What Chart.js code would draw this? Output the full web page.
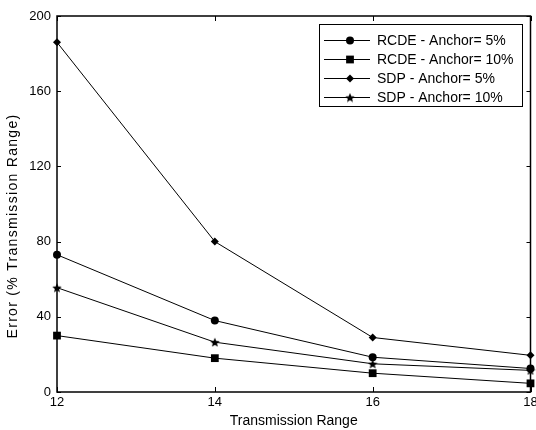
<!DOCTYPE html>
<html>
<head>
<meta charset="utf-8">
<script src="https://cdn.jsdelivr.net/npm/chart.js@4/dist/chart.umd.min.js"></script>
<style>
  html, body { margin: 0; padding: 0; background: #fff; overflow: hidden; }
</style>
</head>
<body>
<canvas id="errorChart" width="536" height="430"></canvas>
<script>
// transmission range on x, error in % of transmission range on y
const ranges = [12, 14, 16, 18];
const rcde5 = [73, 38, 18.5, 12.5];
const rcde10 = [30, 18, 10, 4.6];
const sdp5 = [186, 80, 29, 19.5];
const sdp10 = [55.5, 26.5, 15, 11.5];

const seriesNames = ['RCDE - Anchor= 5%', 'RCDE - Anchor= 10%', 'SDP - Anchor= 5%', 'SDP - Anchor= 10%'];
const xTicks = [12, 14, 16, 18];
const yTicks = [0, 40, 80, 120, 160, 200];
const yTitle = 'Error (% Transmission Range)';

const FONT = '"Liberation Sans", Arial, sans-serif';

// filled pentagram like the matlab marker
function starMarker(size) {
  const c = document.createElement('canvas');
  c.width = size; c.height = size;
  const g = c.getContext('2d');
  const cx = size / 2, cy = size / 2 + 0.5, ro = size / 2, ri = ro * 0.45;
  g.beginPath();
  for (let i = 0; i < 10; i++) {
    const r = i % 2 ? ri : ro;
    const a = -Math.PI / 2 + i * Math.PI / 5;
    g.lineTo(cx + r * Math.cos(a), cy + r * Math.sin(a));
  }
  g.closePath();
  g.fillStyle = '#000';
  g.fill();
  return c;
}

const toPoints = vals => vals.map((v, i) => ({ x: ranges[i], y: v }));

function series(label, vals, style, radius) {
  return {
    label: label,
    data: toPoints(vals),
    borderColor: '#000',
    backgroundColor: '#000',
    borderWidth: 1,
    pointStyle: style,
    pointRadius: radius,
    pointBorderWidth: 0,
    pointBackgroundColor: '#000',
    tension: 0,
    clip: false
  };
}

const star = starMarker(10);

// box around the plot, inward ticks on all four sides, and the y title
const boxPlugin = {
  id: 'box',
  afterDatasetsDraw(chart) {
    const { ctx, chartArea: a, scales } = chart;
    ctx.save();
    ctx.strokeStyle = '#000';
    ctx.lineWidth = 1.5;
    ctx.strokeRect(a.left, a.top, a.right - a.left, a.bottom - a.top);
    ctx.lineWidth = 1;
    ctx.beginPath();
    xTicks.forEach(v => {
      const x = Math.round(scales.x.getPixelForValue(v)) + 0.5;
      ctx.moveTo(x, a.bottom); ctx.lineTo(x, a.bottom - 5);
      ctx.moveTo(x, a.top); ctx.lineTo(x, a.top + 5);
    });
    yTicks.forEach(v => {
      const y = Math.round(scales.y.getPixelForValue(v)) + 0.5;
      ctx.moveTo(a.left, y); ctx.lineTo(a.left + 4, y);
      ctx.moveTo(a.right, y); ctx.lineTo(a.right - 4, y);
    });
    ctx.stroke();

    // rotated y title, spaced out like the original
    ctx.translate(13, 226);
    ctx.rotate(-Math.PI / 2);
    ctx.font = '14px ' + FONT;
    ctx.letterSpacing = '1.3px';
    ctx.textAlign = 'center';
    ctx.textBaseline = 'middle';
    ctx.fillStyle = '#000';
    ctx.fillText(yTitle, 0, 0);
    ctx.restore();
  }
};

// matlab style legend box in the upper right
const legendPlugin = {
  id: 'matLegend',
  afterDraw(chart) {
    const { ctx } = chart;
    const bx = 319, by = 24, bw = 203, bh = 82;
    ctx.save();
    ctx.fillStyle = '#fff';
    ctx.fillRect(bx, by, bw, bh);
    ctx.strokeStyle = '#000';
    ctx.lineWidth = 1;
    ctx.strokeRect(bx + 0.5, by + 0.5, bw, bh);
    ctx.font = '14px ' + FONT;
    ctx.textBaseline = 'middle';
    chart.data.datasets.forEach((ds, i) => {
      const y = by + 16 + i * 19;
      ctx.strokeStyle = '#000';
      ctx.fillStyle = '#000';
      ctx.beginPath();
      ctx.moveTo(bx + 5, y + 0.5);
      ctx.lineTo(bx + 51, y + 0.5);
      ctx.stroke();
      const opts = chart.getDatasetMeta(i).data[0].options;
      Chart.helpers.drawPoint(ctx, {
        pointStyle: opts.pointStyle,
        radius: opts.radius,
        rotation: 0,
        borderWidth: 0
      }, bx + 31, y + 0.5);
      ctx.fillStyle = '#000';
      ctx.fillText(ds.label, bx + 58, y + 1);
    });
    ctx.restore();
  }
};

const tickFont = { family: FONT, size: 13 };

new Chart(document.getElementById('errorChart'), {
  type: 'line',
  data: {
    datasets: [
      series(seriesNames[0], rcde5, 'circle', 4),
      series(seriesNames[1], rcde10, 'rect', 5.5),
      series(seriesNames[2], sdp5, 'rectRot', 4),
      series(seriesNames[3], sdp10, star, 5)
    ]
  },
  options: {
    responsive: false,
    animation: false,
    devicePixelRatio: 1,
    layout: { padding: { top: 16, right: 4, left: 0, bottom: 0 } },
    plugins: {
      legend: { display: false },
      tooltip: { enabled: false }
    },
    scales: {
      x: {
        type: 'linear',
        min: 12,
        max: 18,
        afterBuildTicks: s => { s.ticks = xTicks.map(v => ({ value: v })); },
        afterFit: s => { s.height = 38; s.paddingLeft = 0; s.paddingRight = 0; },
        grid: { display: false, drawTicks: false },
        border: { display: false },
        ticks: { color: '#000', font: tickFont, padding: 3, maxRotation: 0 },
        title: {
          display: true,
          text: 'Transmission Range',
          color: '#000',
          font: { family: FONT, size: 14 },
          padding: { top: 0, bottom: 0 }
        }
      },
      y: {
        min: 0,
        max: 200,
        afterBuildTicks: s => { s.ticks = yTicks.map(v => ({ value: v })); },
        afterFit: s => { s.width = 57; s.paddingTop = 0; s.paddingBottom = 0; },
        grid: { display: false, drawTicks: false },
        border: { display: false },
        ticks: { color: '#000', font: tickFont, padding: 6 }
      }
    }
  },
  plugins: [boxPlugin, legendPlugin]
});
</script>
</body>
</html>
